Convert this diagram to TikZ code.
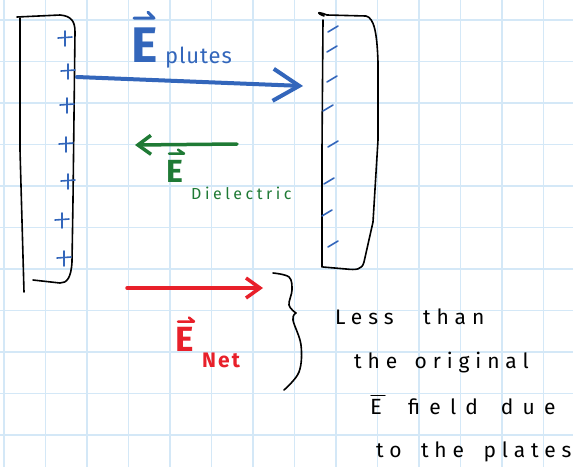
\documentclass[tikz,border=0pt]{standalone}
\usepackage{fontspec}
\setmainfont{Fira Sans}
\newfontfamily\handfont[LetterSpace=28]{Fira Sans}
\newfontfamily\handwide[LetterSpace=44]{Fira Sans}
\usetikzlibrary{arrows.meta}
\definecolor{pblue}{HTML}{3366BB}
\definecolor{pgreen}{HTML}{1F7A35}
\definecolor{pred}{HTML}{E8202A}
\definecolor{gridc}{HTML}{D4E8F7}
\newcommand\gap[1]{\hspace*{#1pt}}
\tikzset{
  gridline/.style={gridc, line width=1.2pt},
  plate/.style={black, line width=1.6pt, line cap=round, line join=round},
  charge/.style={pblue, line width=1.6pt, line cap=round},
  field/.style={line cap=round, line join=round},
  bigE/.style={inner sep=0pt, anchor=base west},
  vbar/.style={line width=2pt, line cap=round, line join=round},
  hand/.style={black, font=\handfont\fontsize{21}{24}\selectfont, inner sep=0pt, anchor=base west},
}
\begin{document}
\begin{tikzpicture}[x=1pt,y=-1pt]
\useasboundingbox (0,0) rectangle (573,467);
\fill[white] (0,0) rectangle (573,467);
% grid
\foreach \k in {0,...,13} \draw[gridline] ({4+41.5*\k},0) -- ({4+41.5*\k},467);
\foreach \k in {0,...,10} \draw[gridline] (0,{20+41.5*\k}) -- (573,{20+41.5*\k});
% left plate
\draw[plate] (20,18) -- (20,150) -- (24,292);
\draw[plate] (17,17) -- (60,15) .. controls (72,16) and (75,22) .. (75,32) -- (73,200) -- (72,262) .. controls (71,278) and (67,283) .. (60,283) -- (33,280);
% right plate
\draw[plate] (323,20) -- (322,150) -- (322,267);
\draw[plate] (324,16) .. controls (316,13) and (317,11) .. (327,15) -- (366,16) .. controls (374,18) and (377,32) .. (378,62) -- (378,140) -- (373,222) -- (364,262) .. controls (362,270) and (356,270) .. (346,269) -- (323,267);
% plus charges
\foreach \x/\y in {65/38, 68/71, 67/105, 66/144, 68/181, 62/220, 64/258}{
  \draw[charge] (\x-7,\y) -- (\x+7,\y-1);
  \draw[charge] (\x,\y-7) -- (\x,\y+8);
}
% minus charges
\foreach \x/\y in {333/29, 332/49, 332/79, 328/108, 333/144, 329/181, 327/213, 333/244}{
  \draw[charge] (\x-5,\y+3) -- (\x+5,\y-3);
}
% blue field
\coordinate (pa) at (77,77);
\coordinate (pb) at (303,86);
\draw[field, pblue, line width=4pt, -{Straight Barb[length=26pt,width=32pt,line width=4pt]}] (pa) -- (pb);
\node[pblue, bigE, font=\fontsize{50}{50}\selectfont\bfseries] (ep) at (131,62) {E};
\draw[pblue, vbar, line width=3pt] (ep.north west) ++(3,-9) -- ++(20,0) -- ++(-6,-6);
\node[pblue, inner sep=0pt, anchor=base west, font=\fontsize{22}{24}\selectfont\addfontfeature{LetterSpace=4}] (eps) at (165,63) {plutes};

% green field
\coordinate (da) at (237,144);
\coordinate (db) at (135,145);
\draw[field, pgreen, line width=3.5pt, -{Straight Barb[length=13pt,width=19pt,line width=3.5pt]}] (da) -- (db);
\node[pgreen, bigE, font=\fontsize{32}{32}\selectfont\bfseries] (ed) at (166,182) {E};
\draw[pgreen, vbar, line width=2.5pt] (ed.north west) ++(3,-6) -- ++(15,0) -- ++(-6,-4);
\node[pgreen, inner sep=0pt, anchor=base west, font=\fontsize{16}{18}\selectfont\addfontfeature{LetterSpace=22}] (eds) at (191,199) {Dielectric};

% red field
\coordinate (na) at (127,288);
\coordinate (nb) at (263,288);
\draw[field, pred, line width=3.5pt, -{Straight Barb[length=14pt,width=20pt,line width=3.5pt]}] (na) -- (nb);
\node[pred, bigE, font=\fontsize{35}{35}\selectfont\bfseries] (en) at (175,351) {E};
\draw[pred, vbar, line width=2.5pt] (en.north west) ++(3,-5) -- ++(16,0) -- ++(-5,-4);
\node[pred, inner sep=0pt, anchor=base west, font=\fontsize{21}{21}\selectfont\bfseries\addfontfeature{LetterSpace=10}] (ens) at (202,367) {Net};

% brace
\draw[plate] plot[smooth, tension=0.6] coordinates {(273,273) (289,277) (292,290) (289,305) (296,313)};
\draw[plate] plot[smooth, tension=0.6] coordinates {(296,313) (293,320) (301,345) (299,372) (284,390)};

% annotation
\node[hand] (t1) at (335,324) {Less\gap{18} than};
\node[hand] (t2) at (354,368) {the\gap{6} original};
\node[black, inner sep=0pt, anchor=base west, font=\fontsize{22}{22}\selectfont] (t3e) at (370,414) {E};
\draw[black, line width=1.4pt, line cap=round] (t3e.north west) ++(1,-3) -- ++(14,0);
\node[hand, font=\handwide\fontsize{21}{24}\selectfont] (t3) at (408,414) {field\gap{8} due};
\node[hand] (t4) at (376,457) {to\gap{8} the\gap{8} plates};
\end{tikzpicture}
\end{document}
